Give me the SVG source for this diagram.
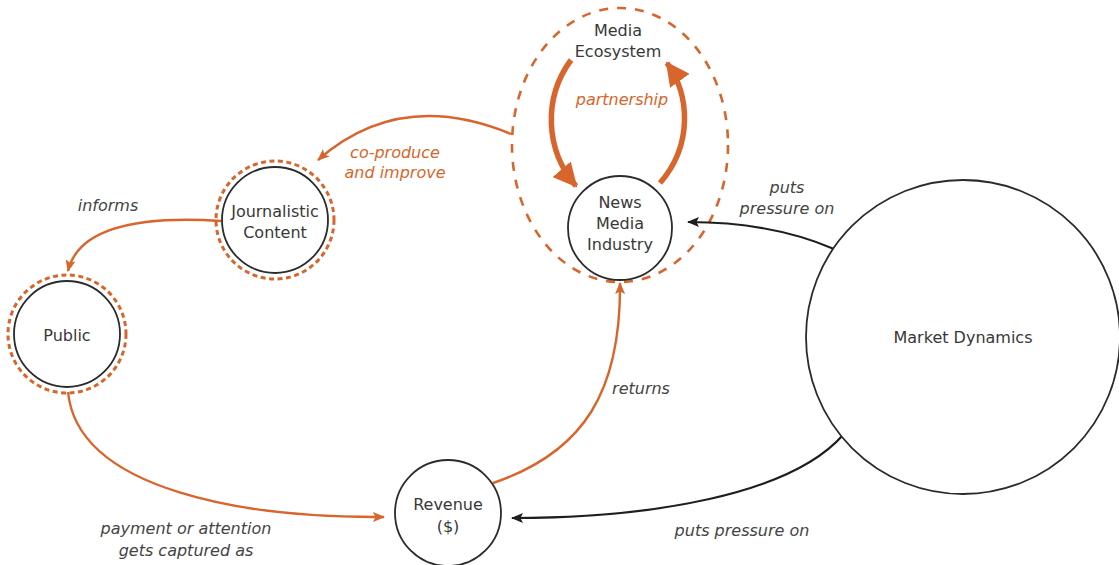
<svg xmlns="http://www.w3.org/2000/svg" width="1119" height="565" viewBox="0 0 1119 565">
  <style>
    .node { fill: #ffffff; stroke: #2b2b2b; stroke-width: 1.8; }
    .halo { fill: none; stroke: #d8652b; stroke-width: 3; stroke-dasharray: 5 3.5; }
    .eco { fill: none; stroke: #d8652b; stroke-width: 2.6; stroke-dasharray: 9 9; }
    .name { font-family: "DejaVu Sans", "Liberation Sans", sans-serif; font-size: 16px; fill: #383838; text-anchor: middle; }
    .lbl { font-family: "DejaVu Sans", "Liberation Sans", sans-serif; font-size: 16px; font-style: italic; fill: #444444; text-anchor: middle; }
    .lbl-o { font-family: "DejaVu Sans", "Liberation Sans", sans-serif; font-size: 16px; font-style: italic; fill: #d8652b; text-anchor: middle; }
    .flow { fill: none; stroke: #d8652b; stroke-width: 2.4; }
    .press { fill: none; stroke: #1e1e1e; stroke-width: 2.2; }
    .bond { fill: none; stroke: #d8652b; stroke-width: 5.5; }
  </style>
  <defs>
    <marker id="headOrange" viewBox="0 0 12 10" refX="11" refY="5" markerWidth="12" markerHeight="10" markerUnits="userSpaceOnUse" orient="auto">
      <path d="M0,0 L12,5 L0,10 L2.5,5 z" fill="#d8652b"/>
    </marker>
    <marker id="headBlack" viewBox="0 0 12 10" refX="11" refY="5" markerWidth="12" markerHeight="10" markerUnits="userSpaceOnUse" orient="auto">
      <path d="M0,0 L12,5 L0,10 L2.5,5 z" fill="#1e1e1e"/>
    </marker>
    <marker id="headBig" viewBox="0 0 24 24" refX="22" refY="12" markerWidth="24" markerHeight="24" markerUnits="userSpaceOnUse" orient="auto">
      <path d="M0,0 L24,12 L0,24 z" fill="#d8652b"/>
    </marker>
  </defs>

  <rect width="1119" height="565" fill="#ffffff"/>

  <!-- media ecosystem boundary -->
  <g id="media-ecosystem">
    <ellipse class="eco" cx="620" cy="145" rx="108" ry="137"/>
    <text class="name" x="618" y="36">Media</text>
    <text class="name" x="618" y="57">Ecosystem</text>
  </g>

  <!-- connectors -->
  <g id="connectors">
    <!-- partnership loop -->
    <path class="bond" d="M571,60 C 543,98 545,150 576,186" marker-end="url(#headBig)"/>
    <path class="bond" d="M660,183 C 693,145 690,95 667,63" marker-end="url(#headBig)"/>
    <text class="lbl-o" x="622" y="105">partnership</text>

    <!-- co-produce and improve -->
    <path class="flow" d="M511,134 Q 400,88 318,160" marker-end="url(#headOrange)"/>
    <text class="lbl-o" x="395" y="158">co-produce</text>
    <text class="lbl-o" x="395" y="178">and improve</text>

    <!-- informs -->
    <path class="flow" d="M221,221 Q 82,212 68,271" marker-end="url(#headOrange)"/>
    <text class="lbl" x="108" y="211">informs</text>

    <!-- payment or attention -->
    <path class="flow" d="M68,392 C 78,492 250,518 384,517" marker-end="url(#headOrange)"/>
    <text class="lbl" x="186" y="534">payment or attention</text>
    <text class="lbl" x="186" y="556">gets captured as</text>

    <!-- returns -->
    <path class="flow" d="M493,483 C 585,452 621,390 620,283" marker-end="url(#headOrange)"/>
    <text class="lbl" x="641" y="394">returns</text>

    <!-- market pressure on industry -->
    <path class="press" d="M834,249 C 790,230 740,222 688,222" marker-end="url(#headBlack)"/>
    <text class="lbl" x="787" y="193">puts</text>
    <text class="lbl" x="787" y="214">pressure on</text>

    <!-- market pressure on revenue -->
    <path class="press" d="M843,435 C 790,495 650,518 512,518" marker-end="url(#headBlack)"/>
    <text class="lbl" x="742" y="536">puts pressure on</text>
  </g>

  <g id="news-media-industry">
    <circle class="node" cx="620" cy="228" r="52"/>
    <text class="name" x="620" y="208">News</text>
    <text class="name" x="620" y="229">Media</text>
    <text class="name" x="620" y="250">Industry</text>
  </g>

  <g id="journalistic-content">
    <circle class="halo" cx="275" cy="220" r="59"/>
    <circle class="node" cx="275" cy="220" r="53"/>
    <text class="name" x="275" y="217">Journalistic</text>
    <text class="name" x="275" y="238">Content</text>
  </g>

  <g id="public">
    <circle class="halo" cx="67" cy="334" r="59"/>
    <circle class="node" cx="67" cy="334" r="53"/>
    <text class="name" x="67" y="341">Public</text>
  </g>

  <g id="revenue">
    <circle class="node" cx="448" cy="513" r="53"/>
    <text class="name" x="448" y="510">Revenue</text>
    <text class="name" x="448" y="532">($)</text>
  </g>

  <g id="market-dynamics">
    <circle class="node" cx="963" cy="337" r="157"/>
    <text class="name" x="963" y="343">Market Dynamics</text>
  </g>
</svg>
